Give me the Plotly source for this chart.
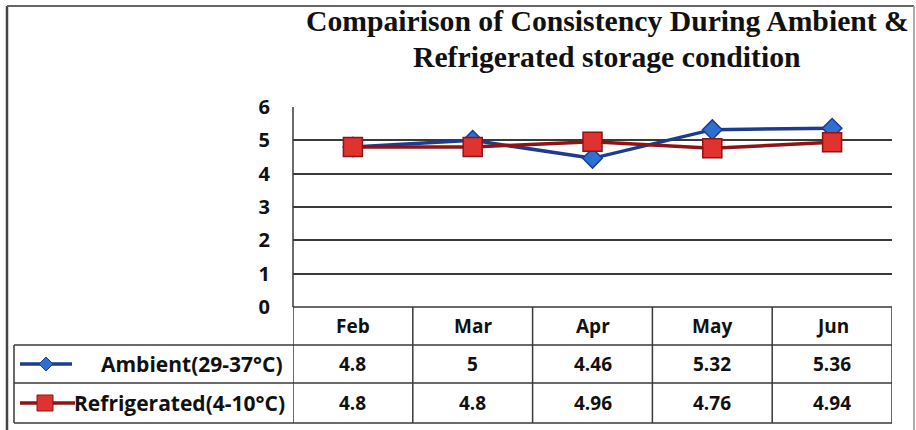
import plotly.graph_objects as go

months = ["Feb", "Mar", "Apr", "May", "Jun"]
ambient = [4.8, 5, 4.46, 5.32, 5.36]
refrigerated = [4.8, 4.8, 4.96, 4.76, 4.94]
ambient_labels = ["4.8", "5", "4.46", "5.32", "5.36"]
refrigerated_labels = ["4.8", "4.8", "4.96", "4.76", "4.94"]
series_names = ["Ambient(29-37°C)", "Refrigerated(4-10°C)"]
y_ticks = [0, 1, 2, 3, 4, 5, 6]
title_lines = ["Compairison of Consistency During Ambient &", "Refrigerated storage condition"]

W, H = 916, 430
def px(x):
    return x / W
def py(y):
    return 1 - y / H

PL, PR, PT, PB = 293, 892, 107, 307
rows = [307, 345, 383, 423]
TL = 14

AMB_LINE = "#1B3C8F"
AMB_MARK = "#2F6FD2"
REF_LINE = "#8E1414"
REF_MARK = "#E0322F"
GRID = "#3a3a3a"
FONT = "Open Sans"
TFS = 19

fig = go.Figure()
fig.add_trace(go.Scatter(
    x=months, y=ambient, mode="lines+markers", name=series_names[0],
    line=dict(color=AMB_LINE, width=3.5),
    marker=dict(symbol="diamond", size=15, color=AMB_MARK, line=dict(color=AMB_LINE, width=1.5)),
))
fig.add_trace(go.Scatter(
    x=months, y=refrigerated, mode="lines+markers", name=series_names[1],
    line=dict(color=REF_LINE, width=3.5),
    marker=dict(symbol="square", size=19, color=REF_MARK, line=dict(color=REF_LINE, width=1.5)),
))

shapes = []
# outer frame
shapes.append(dict(type="line", xref="paper", yref="paper", x0=px(7), x1=px(7), y0=py(6), y1=py(432), line=dict(color="#444", width=2.5)))
shapes.append(dict(type="line", xref="paper", yref="paper", x0=px(7), x1=px(914), y0=py(6), y1=py(6), line=dict(color="#666", width=2)))
shapes.append(dict(type="line", xref="paper", yref="paper", x0=px(914), x1=px(914), y0=py(6), y1=py(432), line=dict(color="#aaa", width=2)))

# table horizontal lines
shapes.append(dict(type="line", xref="paper", yref="paper", x0=px(PL), x1=px(PR), y0=py(rows[0]), y1=py(rows[0]), line=dict(color=GRID, width=1.5)))
for r in rows[1:]:
    shapes.append(dict(type="line", xref="paper", yref="paper", x0=px(TL), x1=px(PR), y0=py(r), y1=py(r), line=dict(color=GRID, width=1.5)))
# table vertical lines
shapes.append(dict(type="line", xref="paper", yref="paper", x0=px(TL), x1=px(TL), y0=py(rows[1]), y1=py(rows[3]), line=dict(color=GRID, width=1.5)))
for i in range(len(months) + 1):
    shapes.append(dict(type="line", xref="x", yref="paper", x0=i - 0.5, x1=i - 0.5, y0=py(rows[0]), y1=py(rows[3]), line=dict(color=GRID, width=1.5)))
# plot area left border
shapes.append(dict(type="line", xref="paper", yref="paper", x0=px(PL), x1=px(PL), y0=py(PB), y1=py(PT), line=dict(color=GRID, width=1.5)))

# legend keys
def key_y(i):
    return (rows[i + 1] + rows[i + 2]) / 2
ky = key_y(0)
shapes.append(dict(type="line", xref="paper", yref="paper", x0=px(20), x1=px(72), y0=py(ky), y1=py(ky), line=dict(color=AMB_LINE, width=3.5)))
cx, s = 46, 7
shapes.append(dict(type="path", xref="paper", yref="paper",
                   path=f"M {px(cx-s)} {py(ky)} L {px(cx)} {py(ky-s)} L {px(cx+s)} {py(ky)} L {px(cx)} {py(ky+s)} Z",
                   fillcolor=AMB_MARK, line=dict(color=AMB_LINE, width=1)))
ky = key_y(1)
shapes.append(dict(type="line", xref="paper", yref="paper", x0=px(20), x1=px(75), y0=py(ky), y1=py(ky), line=dict(color=REF_LINE, width=3.5)))
cx, s = 45, 8
shapes.append(dict(type="rect", xref="paper", yref="paper", x0=px(cx-s), x1=px(cx+s), y0=py(ky-s), y1=py(ky+s),
                   fillcolor=REF_MARK, line=dict(color=REF_LINE, width=1)))

annotations = []
for i, t in enumerate(title_lines):
    annotations.append(dict(text=f"<b>{t}</b>", xref="paper", yref="paper", x=px(607), y=py(21 + 36 * i),
                            xanchor="center", yanchor="middle", showarrow=False,
                            font=dict(family="Liberation Serif", size=29.7, color="#111")))
hy = (rows[0] + rows[1]) / 2
for m in months:
    annotations.append(dict(text=f"<b>{m}</b>", x=m, xref="x", yref="paper", y=py(hy), showarrow=False,
                            font=dict(family=FONT, size=TFS, color="#111"), yanchor="middle"))
for ri, labels in enumerate([ambient_labels, refrigerated_labels]):
    ry = key_y(ri)
    for m, v in zip(months, labels):
        annotations.append(dict(text=f"<b>{v}</b>", x=m, xref="x", yref="paper", y=py(ry), showarrow=False,
                                font=dict(family=FONT, size=TFS, color="#111"), yanchor="middle"))
    annotations.append(dict(text=f"<b>{series_names[ri]}</b>", xref="paper", yref="paper", x=px(285 + 2 * ri), y=py(ry),
                            xanchor="right", yanchor="middle", showarrow=False,
                            font=dict(family=FONT, size=21, color="#111")))

fig.update_layout(
    width=W, height=H, margin=dict(l=0, r=0, t=0, b=0, autoexpand=False),
    paper_bgcolor="white", plot_bgcolor="white", showlegend=False,
    xaxis=dict(domain=[px(PL), px(PR)], range=[-0.5, 4.5], showticklabels=False, showgrid=False,
               zeroline=False, showline=False, automargin=False),
    yaxis=dict(domain=[py(PB), py(PT)], range=[0, 6], tickvals=y_ticks, ticktext=[f"<b>{v}</b>" for v in y_ticks],
               showgrid=True, gridcolor=GRID, gridwidth=1.5, zeroline=False, showline=False, automargin=False,
               ticks="", ticklabelstandoff=22, tickfont=dict(family=FONT, size=20, color="#111")),
    shapes=shapes, annotations=annotations,
)

fig.write_html("out.html", config={"displayModeBar": False},
               post_script="document.body.style.margin='0';document.body.style.overflow='hidden';")
